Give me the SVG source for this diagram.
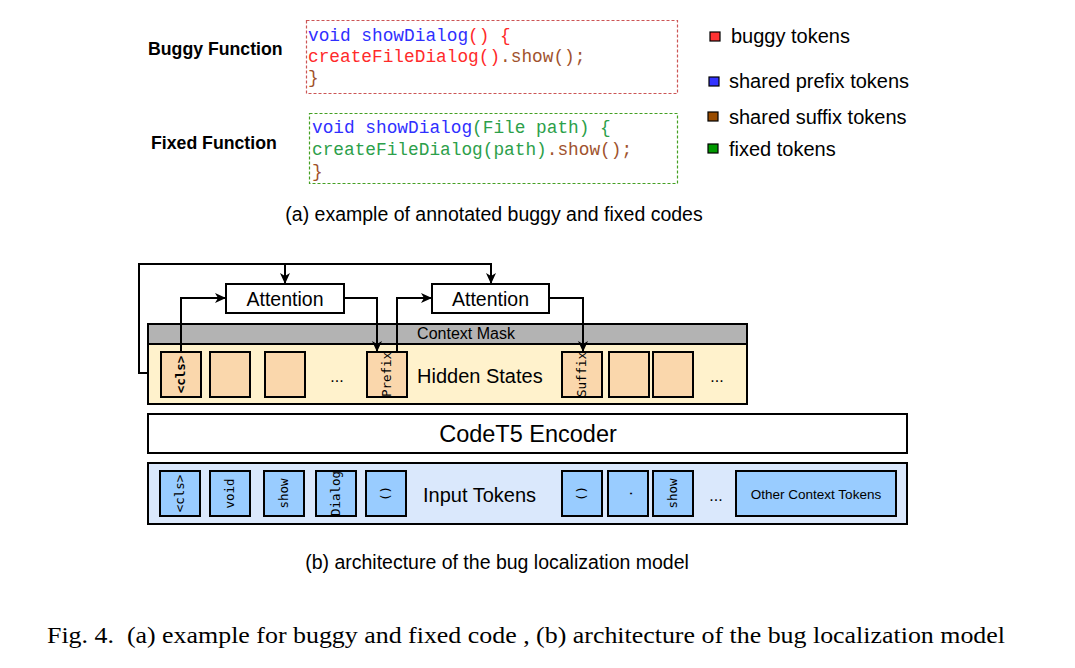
<svg xmlns="http://www.w3.org/2000/svg" width="1075" height="668" viewBox="0 0 1075 668">
<defs>
<marker id="ah" markerWidth="11" markerHeight="10" refX="10" refY="5" orient="auto" markerUnits="userSpaceOnUse">
<path d="M0,0 L11,5 L0,10 L3,5 z" fill="#000"/>
</marker>
<style>
.sans{font-family:"Liberation Sans",Arial,sans-serif;fill:#000}
.mono{font-family:"Liberation Mono","DejaVu Sans Mono",monospace;font-size:17.8px}
.tok{font-family:"DejaVu Sans Mono","Liberation Mono",monospace;font-size:12.5px;fill:#000}
.blue{fill:#2f2fff}
.red{fill:#ff2a2a}
.brown{fill:#a0522d}
.green{fill:#2ca04a}
.box{fill:#fff;stroke:#000;stroke-width:2}
.hs{fill:#fad7ac;stroke:#000;stroke-width:2}
.it{fill:#99ccff;stroke:#000;stroke-width:2}
.edge{fill:none;stroke:#000;stroke-width:2;marker-end:url(#ah)}
.lg{stroke:#000;stroke-width:1.2}
</style>
</defs>
<rect width="1075" height="668" fill="#fff"/>

<g id="part-a">
<text class="sans" x="148" y="55" font-size="17.7" font-weight="bold">Buggy Function</text>
<text class="sans" x="151" y="149" font-size="17.7" font-weight="bold">Fixed Function</text>

<g id="buggy-code">
<rect x="306.5" y="20.5" width="371" height="73" fill="none" stroke="#cc5555" stroke-width="1.2" stroke-dasharray="3,2"/>
<text class="mono" x="308" y="41"><tspan class="blue">void showDialog</tspan><tspan class="red">() {</tspan></text>
<text class="mono" x="308" y="62"><tspan class="red">createFileDialog()</tspan><tspan class="brown">.show();</tspan></text>
<text class="mono brown" x="308" y="83">}</text>
</g>
<g id="fixed-code">
<rect x="309.5" y="113.5" width="368" height="70" fill="none" stroke="#44a022" stroke-width="1.2" stroke-dasharray="3,2"/>
<text class="mono" x="312" y="133"><tspan class="blue">void showDialog</tspan><tspan class="green">(File path) {</tspan></text>
<text class="mono" x="312" y="155"><tspan class="green">createFileDialog(path)</tspan><tspan class="brown">.show();</tspan></text>
<text class="mono brown" x="312" y="177">}</text>
</g>

<g id="legend">
<rect class="lg" x="710" y="32" width="10" height="9" fill="#ff3333"/>
<text class="sans" x="731" y="43" font-size="20">buggy tokens</text>
<rect class="lg" x="709" y="77" width="10" height="9" fill="#3333ff"/>
<text class="sans" x="729" y="88" font-size="20">shared prefix tokens</text>
<rect class="lg" x="708" y="112" width="10" height="9" fill="#994c00"/>
<text class="sans" x="729" y="124" font-size="20">shared suffix tokens</text>
<rect class="lg" x="708" y="144" width="10" height="9" fill="#009900"/>
<text class="sans" x="729" y="156" font-size="20">fixed tokens</text>
</g>

<text class="sans" x="494" y="221" font-size="19.5" text-anchor="middle">(a) example of annotated buggy and fixed codes</text>
</g>

<g id="hidden-states">
<rect x="148" y="324" width="599" height="80" fill="#fff2cc" stroke="#000" stroke-width="2"/>
<rect x="148" y="324" width="599" height="20" fill="#b3b3b3" stroke="#000" stroke-width="2"/>
<text class="sans" x="466" y="339" font-size="16" text-anchor="middle">Context Mask</text>
<text class="sans" x="417" y="383" font-size="20">Hidden States</text>
<rect class="hs" x="161" y="352" width="40" height="45"/>
<text class="tok" font-weight="bold" transform="translate(185,374.5) rotate(-90)" text-anchor="middle">&lt;cls&gt;</text>
<rect class="hs" x="210" y="352" width="40" height="45"/>
<rect class="hs" x="265" y="352" width="40" height="45"/>
<text class="sans" x="337" y="382" font-size="16" text-anchor="middle">...</text>
<rect class="hs" x="367" y="352" width="40" height="45"/>
<text class="tok" transform="translate(391,374.5) rotate(-90)" text-anchor="middle">Prefix</text>
<rect class="hs" x="562" y="352" width="40" height="45"/>
<text class="tok" transform="translate(586,374.5) rotate(-90)" text-anchor="middle">Suffix</text>
<rect class="hs" x="609" y="352" width="40" height="45"/>
<rect class="hs" x="653" y="352" width="40" height="45"/>
<text class="sans" x="717" y="382" font-size="16" text-anchor="middle">...</text>
</g>

<g id="attention-1">
<rect class="box" x="226" y="284" width="118" height="29"/>
<text class="sans" x="285" y="306" font-size="19.5" text-anchor="middle">Attention</text>
</g>
<g id="attention-2">
<rect class="box" x="432" y="284" width="117" height="29"/>
<text class="sans" x="490.5" y="306" font-size="19.5" text-anchor="middle">Attention</text>
</g>

<g id="encoder">
<rect class="box" x="148" y="414" width="759" height="39"/>
<text class="sans" x="528" y="442" font-size="23.5" text-anchor="middle">CodeT5 Encoder</text>
</g>

<g id="input-tokens">
<rect x="148" y="463" width="759" height="61" fill="#dae8fc" stroke="#000" stroke-width="2"/>
<rect class="it" x="160" y="471" width="40" height="45"/>
<text class="tok" transform="translate(184,493.5) rotate(-90)" text-anchor="middle">&lt;cls&gt;</text>
<rect class="it" x="210" y="471" width="40" height="45"/>
<text class="tok" transform="translate(234,493.5) rotate(-90)" text-anchor="middle">void</text>
<rect class="it" x="264" y="471" width="40" height="45"/>
<text class="tok" transform="translate(288,493.5) rotate(-90)" text-anchor="middle">show</text>
<rect class="it" x="316" y="471" width="40" height="45"/>
<text class="tok" transform="translate(340,493.5) rotate(-90)" text-anchor="middle">Dialog</text>
<rect class="it" x="366" y="471" width="40" height="45"/>
<text class="tok" transform="translate(390,493.5) rotate(-90)" text-anchor="middle">()</text>
<text class="sans" x="423" y="502" font-size="20">Input Tokens</text>
<rect class="it" x="562" y="471" width="40" height="45"/>
<text class="tok" transform="translate(586,493.5) rotate(-90)" text-anchor="middle">()</text>
<rect class="it" x="608" y="471" width="40" height="45"/>
<text class="tok" transform="translate(632,493.5) rotate(-90)" text-anchor="middle">.</text>
<rect class="it" x="653" y="471" width="40" height="45"/>
<text class="tok" transform="translate(677,493.5) rotate(-90)" text-anchor="middle">show</text>
<text class="sans" x="716" y="501" font-size="16" text-anchor="middle">...</text>
<rect class="it" x="736" y="471" width="160" height="45"/>
<text class="sans" x="816" y="499" font-size="13.5" text-anchor="middle">Other Context Tokens</text>
</g>

<g id="connectors">
<path class="edge" d="M148,373 H139 V264 H491 V283"/>
<path class="edge" d="M285,264 V283"/>
<path class="edge" d="M181,352 V298 H225"/>
<path class="edge" d="M344,298 H377 V351"/>
<path class="edge" d="M397,352 V298 H431"/>
<path class="edge" d="M549,298 H583 V351"/>
</g>

<text class="sans" x="497" y="569" font-size="19.5" text-anchor="middle">(b) architecture of the bug localization model</text>

<text x="47" y="643" font-family="'Liberation Serif','Times New Roman',serif" font-size="24" textLength="958" lengthAdjust="spacingAndGlyphs">Fig. 4.&#160; (a) example for buggy and fixed code , (b) architecture of the bug localization model</text>
</svg>
